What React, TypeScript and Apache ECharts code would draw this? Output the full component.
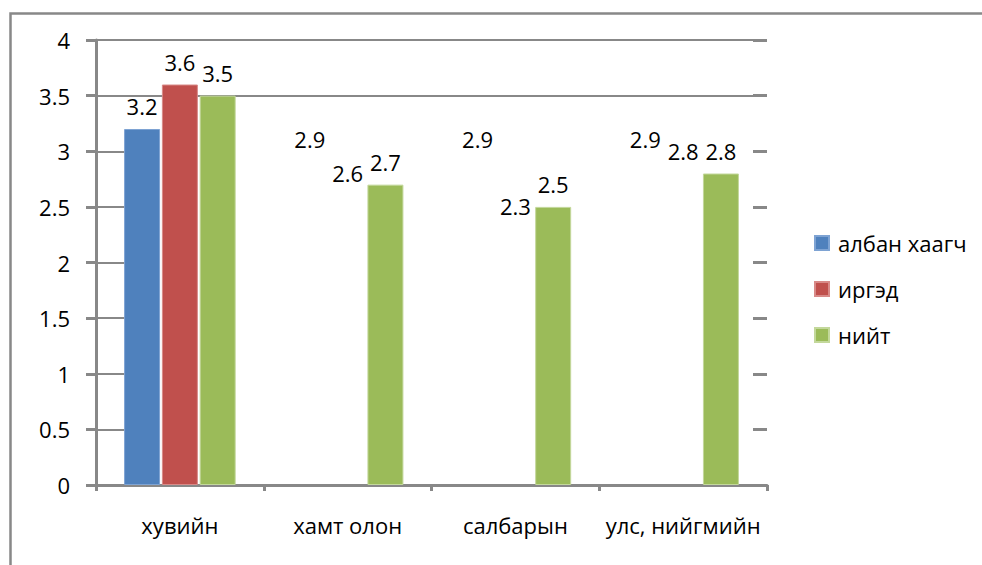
import React, { useEffect, useRef } from "react";
import * as echarts from "echarts";

const categories = ["хувийн", "хамт олон", "салбарын", "улс, нийгмийн"];
const seriesNames = ["албан хаагч", "иргэд", "нийт"];
const albanHaagch = [3.2, 2.9, 2.9, 2.9];
const irged = [3.6, 2.6, 2.3, 2.8];
const niit = [3.5, 2.7, 2.5, 2.8];
const yMin = 0;
const yMax = 4;
const yInterval = 0.5;

const COLORS = ["#4F81BD", "#C0504D", "#9BBB59"];
const BORDERS = ["#7ea3d3", "#d88a88", "#c3d89b"];
const GRAY = "#888888";
const FONT = "Open Sans";
const FS = 22;

export default function App() {
  const ref = useRef<HTMLDivElement>(null);

  useEffect(() => {
    if (!ref.current) return;
    const chart = echarts.init(ref.current, null, { renderer: "svg" });

    // In the reference, only the first category shows bars for every series;
    // elsewhere the first two series only show their value labels.
    const build = (vals: number[], idx: number) =>
      vals.map((v, i) =>
        idx < 2 && i > 0
          ? { value: v, itemStyle: { color: "rgba(0,0,0,0)", borderColor: "rgba(0,0,0,0)" } }
          : v
      );

    const allValues = [albanHaagch, irged, niit];
    const lineCount = Math.round((yMax - yMin) / yInterval) + 1;
    const splitColors = Array.from({ length: lineCount }, (_, i) =>
      i >= lineCount - 2 ? GRAY : "rgba(0,0,0,0)"
    );

    const baseY = {
      type: "value" as const,
      min: yMin,
      max: yMax,
      interval: yInterval,
    };

    chart.setOption({
      animation: false,
      textStyle: { fontFamily: FONT },
      graphic: [
        {
          type: "rect",
          left: 8,
          top: 11,
          shape: { width: 1200, height: 800 },
          style: { fill: "none", stroke: GRAY, lineWidth: 2.5 },
          silent: true,
        },
      ],
      grid: { left: 96, right: 215, top: 40, bottom: 80, containLabel: false },
      legend: {
        orient: "vertical",
        left: 809,
        top: 227,
        itemWidth: 14,
        itemHeight: 14,
        itemGap: 24,
        icon: "rect",
        data: seriesNames,
        textStyle: { fontFamily: FONT, fontSize: FS, color: "#000", padding: [0, 0, 0, 4] },
      },
      xAxis: {
        type: "category",
        data: categories,
        axisLine: { lineStyle: { color: GRAY, width: 3 } },
        axisTick: { show: true, interval: 0, length: 6, lineStyle: { color: GRAY, width: 3 } },
        axisLabel: { interval: 0, color: "#000", fontSize: FS, fontFamily: FONT, margin: 29 },
      },
      yAxis: [
        {
          ...baseY,
          position: "left",
          axisLine: { show: true, lineStyle: { color: GRAY, width: 3 } },
          axisTick: { show: true, length: 10, lineStyle: { color: GRAY, width: 3 } },
          axisLabel: { color: "#000", fontSize: FS, fontFamily: FONT, margin: 26 },
          splitLine: { show: true, lineStyle: { color: splitColors, width: 2 } },
        },
        {
          ...baseY,
          position: "left",
          axisLine: { show: false },
          axisTick: { show: true, inside: true, length: 29, lineStyle: { color: GRAY, width: 2 } },
          axisLabel: { show: false },
          splitLine: { show: false },
        },
        {
          ...baseY,
          position: "right",
          axisLine: { show: false },
          axisTick: { show: true, inside: true, length: 14, lineStyle: { color: GRAY, width: 3 } },
          axisLabel: { show: false },
          splitLine: { show: false },
        },
      ],
      series: allValues.map((vals, idx) => ({
        name: seriesNames[idx],
        type: "bar",
        yAxisIndex: 0,
        barWidth: 36,
        barGap: "5%",
        data: build(vals, idx),
        itemStyle: { color: COLORS[idx], borderColor: BORDERS[idx], borderWidth: 1 },
        label: {
          show: true,
          position: "top",
          distance: 12,
          color: "#000",
          fontSize: FS,
          fontFamily: FONT,
        },
      })),
    });

    return () => chart.dispose();
  }, []);

  return (
    <div
      ref={ref}
      style={{ position: "fixed", left: 0, top: 0, width: 982, height: 565, background: "#fff" }}
    />
  );
}
